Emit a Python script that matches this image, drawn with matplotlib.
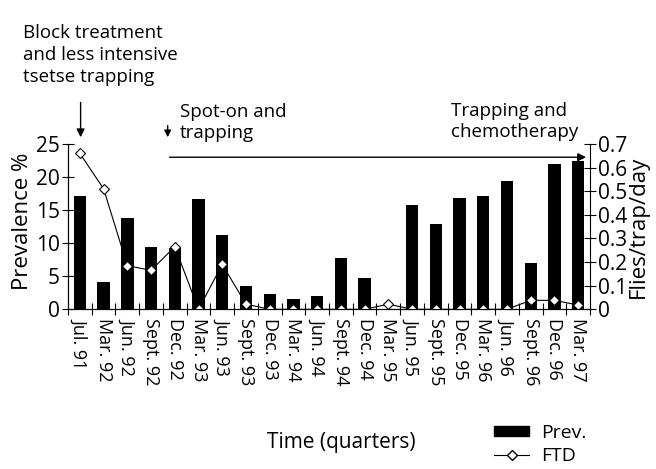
import numpy as np
import matplotlib
matplotlib.use("Agg")
import matplotlib.pyplot as plt
from matplotlib.lines import Line2D
from matplotlib.patches import Patch

plt.rcParams['font.family'] = ['Open Sans', 'DejaVu Sans']

# quarterly survey data
quarters = ["Jul. 91", "Mar. 92", "Jun. 92", "Sept. 92", "Dec. 92", "Mar. 93",
            "Jun. 93", "Sept. 93", "Dec. 93", "Mar. 94", "Jun. 94", "Sept. 94",
            "Dec. 94", "Mar. 95", "Jun. 95", "Sept. 95", "Dec. 95", "Mar. 96",
            "Jun. 96", "Sept. 96", "Dec. 96", "Mar. 97"]
prev = [17.2, 4.1, 13.8, 9.4, 9.3, 16.7, 11.3, 3.5, 2.3, 1.6, 2.0, 7.8,
        4.7, 0.0, 15.7, 12.9, 16.8, 17.2, 19.4, 7.0, 22.0, 22.4]
ftd = [0.66, 0.51, 0.185, 0.165, 0.265, 0.0, 0.19, 0.022, 0.0, 0.0, 0.0, 0.0,
       0.0, 0.022, 0.0, 0.0, 0.0, 0.0, 0.0, 0.038, 0.038, 0.018]

x = np.arange(len(quarters))

fig = plt.figure(figsize=(6.56, 4.69), dpi=100)
ax = fig.add_axes([0.1037, 0.3405, 0.7957, 0.3525])
ax.bar(x, prev, width=0.52, color='black')
ax.set_xlim(-0.5, len(quarters) - 0.5)
ax.set_ylim(0, 25)
ax.set_yticks([0, 5, 10, 15, 20, 25])
ax.spines['top'].set_visible(False)
ax.spines['right'].set_visible(False)
ax.set_xticks(np.arange(-0.5, len(quarters), 1.0))
ax.set_xticklabels([])
ax.set_xticks(x, minor=True)
ax.set_xticklabels(quarters, minor=True, rotation=270, fontsize=13)
ax.tick_params(axis='x', which='major', direction='inout', length=8)
ax.tick_params(axis='x', which='minor', length=0, pad=6)
ax.tick_params(axis='y', direction='inout', length=8, labelsize=15, pad=2)
ax.set_ylabel("Prevalence %", fontsize=16, labelpad=0)
ax.yaxis.set_label_coords(-0.068, 0.53)

ax2 = ax.twinx()
ax2.plot(x, ftd, color='black', lw=0.8, marker='D', markersize=5.5,
         markerfacecolor='white', markeredgecolor='black', markeredgewidth=0.8)
ax2.set_ylim(0, 0.7)
ax2.set_yticks([0, 0.1, 0.2, 0.3, 0.4, 0.5, 0.6, 0.7])
ax2.set_yticklabels(["0", "0.1", "0.2", "0.3", "0.4", "0.5", "0.6", "0.7"])
ax2.spines['top'].set_visible(False)
ax2.tick_params(axis='y', direction='inout', length=8, labelsize=15, pad=2)
ax2.set_ylabel("Flies/trap/day", fontsize=16, labelpad=0)

# treatment periods
ax.annotate("", xy=(0.03, 25.6), xytext=(0.03, 31.7), xycoords='data',
            arrowprops=dict(arrowstyle='-|>', color='black', lw=1,
                            mutation_scale=12), annotation_clip=False)
ax.annotate("", xy=(3.7, 25.6), xytext=(3.7, 28.2), xycoords='data',
            arrowprops=dict(arrowstyle='-|>', color='black', lw=1,
                            mutation_scale=10), annotation_clip=False)
ax.annotate("", xy=(21.45, 23.0), xytext=(3.66, 23.0), xycoords='data',
            arrowprops=dict(arrowstyle='-|>', color='black', lw=1,
                            mutation_scale=12), annotation_clip=False)

fig.text(23 / 656, 1 - 82 / 469, "Block treatment\nand less intensive\ntsetse trapping",
         fontsize=13.5, va='baseline', ha='left', linespacing=1.3)
fig.text(180 / 656, 1 - 138 / 469, "Spot-on and\ntrapping",
         fontsize=13.5, va='baseline', ha='left', linespacing=1.2)
fig.text(578 / 656, 1 - 137 / 469, "Trapping and\nchemotherapy",
         fontsize=13.5, va='baseline', ha='right', multialignment='left',
         linespacing=1.2)

fig.text(341 / 656, 1 - 448 / 469, "Time (quarters)", fontsize=15,
         ha='center', va='baseline')

handles = [Patch(facecolor='black', edgecolor='black', label='Prev.'),
           Line2D([], [], color='black', lw=0.8, marker='D', markersize=5,
                  markerfacecolor='white', markeredgecolor='black', label='FTD')]
fig.legend(handles=handles, loc='upper left', bbox_to_anchor=(494 / 656, 1 - 424 / 469),
           frameon=False, fontsize=14, handlelength=1.8, handleheight=0.45,
           handletextpad=0.6, labelspacing=0.25, borderaxespad=0, borderpad=0)

fig.savefig("out.png", dpi=100)
